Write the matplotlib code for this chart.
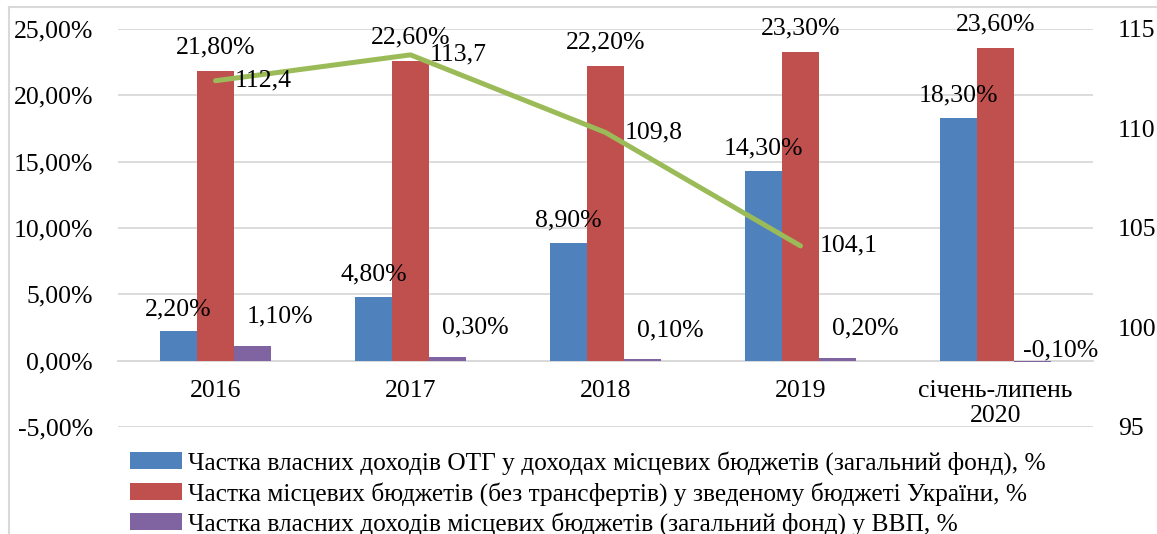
import numpy as np
import matplotlib.pyplot as plt
from matplotlib.lines import Line2D
from matplotlib.ticker import FuncFormatter

plt.rcParams['font.family'] = ['Liberation Serif', 'DejaVu Serif']

# Data
categories = ['2016', '2017', '2018', '2019', 'січень-липень\n2020']
otg_share = [2.2, 4.8, 8.9, 14.3, 18.3]
local_share = [21.8, 22.6, 22.2, 23.3, 23.6]
gdp_share = [1.1, 0.3, 0.1, 0.2, -0.1]
index_values = [112.4, 113.7, 109.8, 104.1]

series_names = [
    'Частка власних доходів ОТГ у доходах місцевих бюджетів (загальний фонд), %',
    'Частка місцевих бюджетів (без трансфертів) у зведеному бюджеті України, %',
    'Частка власних доходів місцевих бюджетів (загальний фонд) у ВВП, %',
]
colors = ['#4F81BD', '#C0504D', '#8064A2']
line_color = '#9BBB59'
grid_color = '#D9D9D9'

def pct(v):
    return f'{v:.2f}%'.replace('.', ',')

fig = plt.figure(figsize=(11.57, 5.34), dpi=100)
ax = fig.add_axes([0.102, 0.2004, 0.8427, 0.7453])
ax2 = ax.twinx()

x = np.arange(len(categories))
w = 0.19
fs = 18.5

bars = []
for i, (vals, c) in enumerate(zip([otg_share, local_share, gdp_share], colors)):
    b = ax.bar(x + (i - 1) * w, vals, w, color=c, label=series_names[i], zorder=3)
    bars.append(b)

# data labels
for xi, v in zip(x, otg_share):
    ax.annotate(pct(v), (xi - w, v), xytext=(0, 8), textcoords='offset points',
                ha='center', va='bottom', fontsize=fs, zorder=5)
for xi, v in zip(x, local_share):
    ax.annotate(pct(v), (xi, v), xytext=(0, 9), textcoords='offset points',
                ha='center', va='bottom', fontsize=fs, zorder=5)
for xi, v in zip(x, gdp_share):
    dy = 21 if v > 0 else 7
    ax.annotate(pct(v), (xi + w, max(v, 0)), xytext=(20, dy), textcoords='offset points',
                ha='center', va='center', fontsize=fs, zorder=5)

ax.set_ylim(-5, 25)
ax.set_yticks(np.arange(-5, 26, 5))
ax.yaxis.set_major_formatter(FuncFormatter(lambda v, p: pct(v)))
ax.set_xlim(-0.5, len(categories) - 0.5)
ax.set_xticks(x)
ax.set_xticklabels(categories, linespacing=1.45)
ax.tick_params(axis='y', length=0, labelsize=fs, pad=18)
ax.tick_params(axis='x', length=0, labelsize=fs, pad=14)
ax.grid(axis='y', color=grid_color, linewidth=1.3, zorder=0)
ax.set_axisbelow(True)
for s in ['left', 'right', 'top']:
    ax.spines[s].set_visible(False)
ax.spines['bottom'].set_position(('data', 0))
ax.spines['bottom'].set_color(grid_color)
ax.spines['bottom'].set_linewidth(1.3)

# line on secondary axis
lx = x[:len(index_values)]
ax2.plot(lx, index_values, color=line_color, linewidth=3.6, solid_capstyle='round', zorder=4)
for xi, v in zip(lx, index_values):
    ax2.annotate(f'{v:.1f}'.replace('.', ','), (xi, v), xytext=(14, 0), textcoords='offset points',
                 ha='left', va='center', fontsize=fs, zorder=6)
ax2.set_ylim(95, 115)
ax2.set_yticks(np.arange(95, 116, 5))
ax2.tick_params(axis='y', length=0, labelsize=fs, pad=18)
for s in ax2.spines.values():
    s.set_visible(False)

fig.legend(handles=bars, labels=series_names, loc='upper left',
           bbox_to_anchor=(0.112, 0.155), frameon=False, fontsize=18.3,
           handlelength=2.05, handleheight=0.65, handletextpad=0.25,
           labelspacing=0.26, borderpad=0, borderaxespad=0)

# outer chart border
fig.add_artist(Line2D([9 / 1157, 9 / 1157], [0, 1 - 7 / 534], color=grid_color, linewidth=1.5))
fig.add_artist(Line2D([9 / 1157, 1], [1 - 7 / 534, 1 - 7 / 534], color=grid_color, linewidth=1.5))

fig.savefig('out.png', dpi=100)
